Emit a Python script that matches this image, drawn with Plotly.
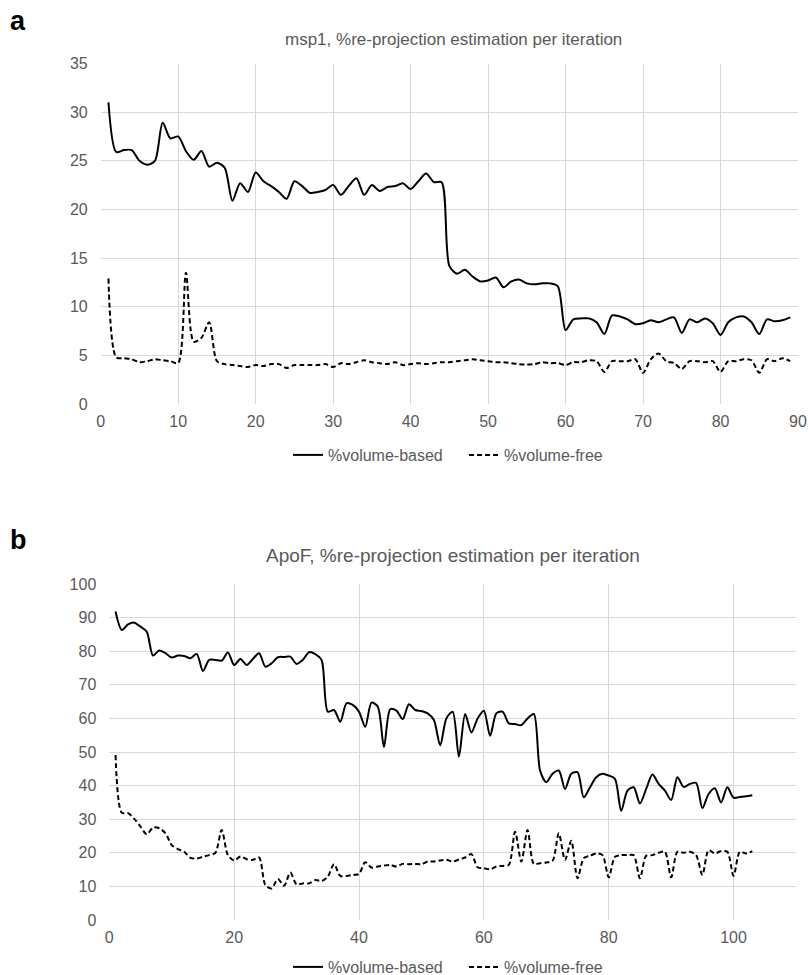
import plotly.graph_objects as go

# ---------------- Data ----------------
a_iter = list(range(1, 90))
a_volume_based = [31.0, 25.9, 26.1, 26.1, 25.0, 24.6, 25.0, 28.9, 27.3, 27.5,
                  26.0, 25.1, 26.0, 24.4, 24.8, 24.3, 20.9, 22.7, 21.8, 23.8,
                  22.9, 22.4, 21.8, 21.1, 22.9, 22.4, 21.7, 21.8, 22.0, 22.5,
                  21.5, 22.4, 23.2, 21.5, 22.5, 21.9, 22.3, 22.4, 22.7, 22.1,
                  22.9, 23.7, 22.8, 22.8, 14.2, 13.4, 13.8, 13.1, 12.6, 12.7,
                  13.0, 12.0, 12.6, 12.8, 12.4, 12.3, 12.4, 12.4, 12.1, 7.6,
                  8.7, 8.8, 8.8, 8.4, 7.2, 9.1, 9.0, 8.7, 8.2, 8.3,
                  8.6, 8.4, 8.7, 8.9, 7.3, 8.7, 8.4, 8.8, 8.3, 7.1,
                  8.4, 8.9, 9.0, 8.4, 7.2, 8.7, 8.5, 8.6, 8.9]
a_volume_free = [12.9, 4.8, 4.7, 4.6, 4.3, 4.4, 4.6, 4.5, 4.4, 4.2,
                 13.5, 6.4, 6.8, 8.4, 4.4, 4.1, 4.0, 3.9, 3.8, 4.0,
                 3.9, 4.1, 4.1, 3.7, 4.0, 4.0, 4.0, 4.0, 4.1, 3.8,
                 4.2, 4.1, 4.3, 4.5, 4.3, 4.2, 4.1, 4.3, 4.0, 4.1,
                 4.2, 4.1, 4.2, 4.3, 4.3, 4.4, 4.5, 4.6, 4.5, 4.4,
                 4.3, 4.3, 4.2, 4.1, 4.05, 4.1, 4.3, 4.2, 4.2, 4.0,
                 4.3, 4.3, 4.5, 4.4, 3.3, 4.4, 4.4, 4.4, 4.6, 3.2,
                 4.6, 5.2, 4.4, 4.2, 3.6, 4.4, 4.4, 4.3, 4.4, 3.3,
                 4.4, 4.4, 4.6, 4.5, 3.2, 4.6, 4.4, 4.7, 4.4]

b_iter = list(range(1, 104))
b_volume_based = [91.8, 86.3, 88.0, 88.5, 87.3, 85.8, 78.7, 80.2, 79.4, 78.1,
                  78.7, 78.6, 77.9, 79.2, 74.1, 77.4, 77.4, 77.2, 79.6, 75.9,
                  77.7, 75.9, 77.7, 79.4, 75.4, 76.4, 78.2, 78.3, 78.4, 76.2,
                  77.4, 79.7, 79.1, 77.4, 62.0, 62.5, 59.0, 64.5, 64.0, 62.0,
                  57.5, 64.7, 63.5, 51.5, 62.7, 62.3, 59.8, 64.2, 62.5, 62.2,
                  61.5, 59.5, 52.0, 60.0, 62.0, 48.6, 61.3, 55.8, 60.0, 62.3,
                  54.8, 61.5, 62.0, 58.5, 58.3, 58.0, 60.0, 61.3, 44.5, 41.0,
                  43.5, 44.5, 39.0, 43.5, 44.0, 36.5, 39.5, 42.5, 43.5, 43.0,
                  42.0, 32.5, 38.5, 39.5, 34.7, 39.0, 43.3, 40.5, 38.5, 35.7,
                  42.5, 39.6, 40.5, 40.8, 33.3, 37.5, 39.2, 35.0, 39.5, 36.4,
                  36.6, 36.8, 37.1]
b_volume_free = [49.1, 31.9, 31.8, 30.1, 27.8, 25.5, 27.5, 27.3, 25.8, 22.3,
                 21.1, 20.3, 18.5, 18.3, 18.8, 19.3, 20.0, 26.8, 19.3, 17.7,
                 18.9, 18.1, 17.9, 18.6, 10.4, 9.4, 12.2, 10.2, 14.1, 10.6,
                 10.9, 10.9, 11.9, 11.6, 12.9, 16.6, 13.1, 13.1, 13.4, 13.7,
                 17.2, 15.6, 15.9, 16.2, 16.4, 15.9, 16.7, 16.6, 16.7, 16.6,
                 17.4, 17.4, 17.7, 17.9, 17.4, 18.0, 18.6, 19.6, 15.7, 15.4,
                 15.1, 15.9, 16.1, 16.4, 26.3, 17.4, 26.8, 16.7, 16.9, 17.1,
                 17.6, 25.8, 17.9, 23.6, 12.4, 18.4, 19.1, 19.8, 19.3, 12.7,
                 18.8, 19.3, 19.3, 19.3, 12.4, 19.1, 19.3, 20.0, 20.3, 12.7,
                 20.3, 20.0, 20.3, 19.3, 13.4, 20.8, 19.8, 20.5, 20.3, 13.1,
                 20.3, 19.8, 20.5]

series_names = ["%volume-based", "%volume-free"]
title_a = "msp1, %re-projection estimation per iteration"
title_b = "ApoF, %re-projection estimation per iteration"

# ---------------- Figure ----------------
W, H = 809, 975
FONT = "Liberation Sans, Arial, sans-serif"
GREY = "#595959"
GRID = "#d9d9d9"

def px_x(p):
    return p / W

def px_y(p):
    return 1 - p / H

fig = go.Figure()

line_solid = dict(color="black", width=2, shape="spline", smoothing=0.8)
line_dash = dict(color="black", width=2, shape="spline", smoothing=0.8, dash="5px,3px")

fig.add_trace(go.Scatter(x=a_iter, y=a_volume_based, mode="lines", name=series_names[0],
                         line=line_solid, xaxis="x", yaxis="y", legend="legend"))
fig.add_trace(go.Scatter(x=a_iter, y=a_volume_free, mode="lines", name=series_names[1],
                         line=line_dash, xaxis="x", yaxis="y", legend="legend"))
fig.add_trace(go.Scatter(x=b_iter, y=b_volume_based, mode="lines", name=series_names[0],
                         line=line_solid, xaxis="x2", yaxis="y2", legend="legend2"))
fig.add_trace(go.Scatter(x=b_iter, y=b_volume_free, mode="lines", name=series_names[1],
                         line=line_dash, xaxis="x2", yaxis="y2", legend="legend2"))

def axis_common(size):
    return dict(showgrid=True, gridcolor=GRID, gridwidth=1, zeroline=False,
                tickfont=dict(family=FONT, size=size, color=GREY), ticks="",
                showline=False, fixedrange=True, automargin=False)

legend_common = dict(orientation="h", xanchor="center", yanchor="middle",
                     entrywidth=131, entrywidthmode="pixels",
                     font=dict(family=FONT, size=16, color=GREY), bgcolor="rgba(0,0,0,0)")

fig.update_layout(
    width=W, height=H,
    margin=dict(l=0, r=0, t=0, b=0, autoexpand=False),
    paper_bgcolor="white", plot_bgcolor="white",
    font=dict(family=FONT, color=GREY),
    xaxis=dict(domain=[px_x(100.7), px_x(798)], range=[0, 90], dtick=10, tick0=0,
               anchor="y", ticklabelstandoff=6, **axis_common(16)),
    yaxis=dict(domain=[px_y(404), px_y(63.5)], range=[0, 35], dtick=5, tick0=0,
               anchor="x", ticklabelstandoff=12, **axis_common(16)),
    xaxis2=dict(domain=[px_x(109.3), px_x(796)], range=[0, 110], dtick=20, tick0=0,
                anchor="y2", ticklabelstandoff=6, **axis_common(16)),
    yaxis2=dict(domain=[px_y(920), px_y(584)], range=[0, 100], dtick=10, tick0=0,
                anchor="x2", ticklabelstandoff=12, **axis_common(16)),
    legend=dict(x=px_x(464), y=px_y(455), **legend_common),
    legend2=dict(x=px_x(464), y=px_y(967), **legend_common),
    annotations=[
        dict(text=title_a, x=px_x(453), y=px_y(40), xref="paper", yref="paper",
             xanchor="center", yanchor="middle", showarrow=False,
             font=dict(family=FONT, size=17, color=GREY)),
        dict(text=title_b, x=px_x(453), y=px_y(555), xref="paper", yref="paper",
             xanchor="center", yanchor="middle", showarrow=False,
             font=dict(family=FONT, size=19, color=GREY)),
        dict(text="<b>a</b>", x=px_x(8), y=px_y(21), xref="paper", yref="paper",
             xanchor="left", yanchor="middle", showarrow=False,
             font=dict(family=FONT, size=27, color="black")),
        dict(text="<b>b</b>", x=px_x(8), y=px_y(540), xref="paper", yref="paper",
             xanchor="left", yanchor="middle", showarrow=False,
             font=dict(family=FONT, size=27, color="black")),
    ],
)

# remove the page's default body margin so the figure sits at the window's corner
fig.write_html("out.html", config={"displayModeBar": False},
               post_script="document.body.style.margin='0';document.body.style.overflow='hidden';")
